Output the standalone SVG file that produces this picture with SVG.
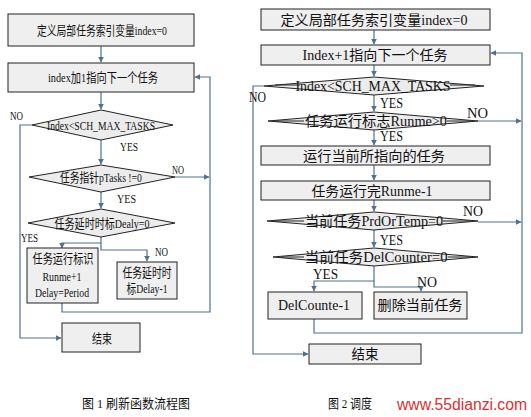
<svg xmlns="http://www.w3.org/2000/svg" width="531" height="417" viewBox="0 0 531 417">
<style>
.box{fill:#efefef;stroke:#222;stroke-width:1}
.dia{fill:#ececec;stroke:#222;stroke-width:1}
.con{fill:none;stroke:#52708f;stroke-width:1.2}
.t1{font-family:"Liberation Serif","Noto Sans CJK SC",serif;font-size:13px;fill:#111;text-anchor:middle}
.t2{font-family:"Liberation Serif","Noto Sans CJK SC",serif;font-size:14px;fill:#111;text-anchor:middle}
.lb1{font-family:"Liberation Serif",serif;font-size:13px;fill:#111}
.lb2{font-family:"Liberation Serif",serif;font-size:14px;fill:#111}
.wm{font-family:"Liberation Sans",sans-serif;font-size:16px;fill:#dc2f2f}
</style>
<defs>
<marker id="ah" viewBox="0 0 10 10" refX="9" refY="5" markerWidth="5" markerHeight="5" orient="auto">
<path d="M0,0 L10,5 L0,10 z" fill="#52708f"/>
</marker>
</defs>
<rect width="531" height="417" fill="#ffffff"/>

<!-- ===== Left flowchart ===== -->
<g id="connectors-left">
<path class="con" d="M101,46 V62" marker-end="url(#ah)"/>
<path class="con" d="M101,92 V109" marker-end="url(#ah)"/>
<path class="con" d="M101,140 V164" marker-end="url(#ah)"/>
<path class="con" d="M101,192 V208" marker-end="url(#ah)"/>
<path class="con" d="M101,237 V243 H62 V248" marker-end="url(#ah)"/>
<path class="con" d="M101,243 V250 H147 V261" marker-end="url(#ah)"/>
<path class="con" d="M62,303 V312 H210 V77 H195" marker-end="url(#ah)"/>
<path class="con" d="M175,177 H209" marker-end="url(#ah)"/>
<path class="con" d="M32,125 H20 V338 H61" marker-end="url(#ah)"/>
</g>
<g id="L-start"><rect class="box" x="8" y="14" width="186" height="32"/>
<text class="t1" x="102" y="35" textLength="130" lengthAdjust="spacingAndGlyphs">定义局部任务索引变量index=0</text></g>
<g id="L-next"><rect class="box" x="8" y="63" width="186" height="29"/>
<text class="t1" x="103" y="82" textLength="110" lengthAdjust="spacingAndGlyphs">index加1指向下一个任务</text></g>
<g id="L-cond1"><polygon class="dia" points="101,110 173,125 101,140 32,125"/>
<text class="t1" x="101" y="130" textLength="108" lengthAdjust="spacingAndGlyphs">Index&lt;SCH_MAX_TASKS</text></g>
<g id="L-cond2"><polygon class="dia" points="101,165 175,177 101,192 29,177"/>
<text class="t1" x="101" y="182" textLength="82" lengthAdjust="spacingAndGlyphs">任务指针pTasks !=0</text></g>
<g id="L-cond3"><polygon class="dia" points="101,209 175,223 101,237 28,223"/>
<text class="t1" x="102" y="228" textLength="95" lengthAdjust="spacingAndGlyphs">任务延时时标Dealy=0</text></g>
<g id="L-run"><rect class="box" x="27" y="248" width="71" height="55"/>
<text class="t1" x="63" y="263" textLength="61" lengthAdjust="spacingAndGlyphs">任务运行标识</text>
<text class="t1" x="62" y="281" textLength="39" lengthAdjust="spacingAndGlyphs">Runme+1</text>
<text class="t1" x="62" y="297" textLength="54" lengthAdjust="spacingAndGlyphs">Delay=Period</text></g>
<g id="L-dec"><rect class="box" x="117" y="262" width="60" height="37"/>
<text class="t1" x="147" y="277" textLength="49" lengthAdjust="spacingAndGlyphs">任务延时时</text>
<text class="t1" x="147" y="293" textLength="41" lengthAdjust="spacingAndGlyphs">标Delay-1</text></g>
<g id="L-end"><rect class="box" x="62" y="323" width="78" height="29"/>
<text class="t1" x="102" y="343" textLength="20" lengthAdjust="spacingAndGlyphs">结束</text></g>
<g id="L-labels">
<text class="lb1" x="10" y="120" textLength="13" lengthAdjust="spacingAndGlyphs">NO</text>
<text class="lb1" x="120" y="151" textLength="18" lengthAdjust="spacingAndGlyphs">YES</text>
<text class="lb1" x="172" y="174" textLength="12" lengthAdjust="spacingAndGlyphs">NO</text>
<text class="lb1" x="117" y="203" textLength="19" lengthAdjust="spacingAndGlyphs">YES</text>
<text class="lb1" x="21" y="242" textLength="17" lengthAdjust="spacingAndGlyphs">YES</text>
<text class="lb1" x="155" y="256" textLength="13" lengthAdjust="spacingAndGlyphs">NO</text>
</g>
<text class="t1" x="136" y="408" textLength="108" lengthAdjust="spacingAndGlyphs">图 1 刷新函数流程图</text>

<!-- ===== Right flowchart ===== -->
<g id="connectors-right">
<path class="con" d="M374,30 V44" marker-end="url(#ah)"/>
<path class="con" d="M374,65 V76" marker-end="url(#ah)"/>
<path class="con" d="M374,95 V111" marker-end="url(#ah)"/>
<path class="con" d="M374,130 V145" marker-end="url(#ah)"/>
<path class="con" d="M374,165 V180" marker-end="url(#ah)"/>
<path class="con" d="M374,200 V211" marker-end="url(#ah)"/>
<path class="con" d="M374,230 V247" marker-end="url(#ah)"/>
<path class="con" d="M374,266 V281 H314 V291" marker-end="url(#ah)"/>
<path class="con" d="M374,281 V287 H421 V291" marker-end="url(#ah)"/>
<path class="con" d="M314,319 V333 H522 V53 H491" marker-end="url(#ah)"/>
<path class="con" d="M478,121 H521" marker-end="url(#ah)"/>
<path class="con" d="M478,222 H521" marker-end="url(#ah)"/>
<path class="con" d="M264,86 H253 V354 H308" marker-end="url(#ah)"/>
</g>
<g id="R-start"><rect class="box" x="261" y="9" width="229" height="21"/>
<text class="t2" x="374" y="25" textLength="187" lengthAdjust="spacingAndGlyphs">定义局部任务索引变量index=0</text></g>
<g id="R-next"><rect class="box" x="261" y="45" width="229" height="20"/>
<text class="t2" x="375" y="60" textLength="145" lengthAdjust="spacingAndGlyphs">Index+1指向下一个任务</text></g>
<g id="R-cond1"><polygon class="dia" points="374,77 484,86 374,95 264,86"/>
<path d="M275,85 H300 M450,85 H475" stroke="#222" stroke-width="1"/>
<text class="t2" x="373" y="91" textLength="155" lengthAdjust="spacingAndGlyphs">Index&lt;SCH_MAX_TASKS</text></g>
<g id="R-cond2"><polygon class="dia" points="374,112 478,121 374,130 268,121"/>
<path d="M276,121 H304 M447,121 H470" stroke="#222" stroke-width="1"/>
<text class="t2" x="376" y="126" textLength="142" lengthAdjust="spacingAndGlyphs">任务运行标志Runme&gt;0</text></g>
<g id="R-run"><rect class="box" x="261" y="146" width="229" height="19"/>
<text class="t2" x="374" y="161" textLength="142" lengthAdjust="spacingAndGlyphs">运行当前所指向的任务</text></g>
<g id="R-done"><rect class="box" x="261" y="181" width="229" height="19"/>
<text class="t2" x="372" y="196" textLength="121" lengthAdjust="spacingAndGlyphs">任务运行完Runme-1</text></g>
<g id="R-cond3"><polygon class="dia" points="374,212 478,221 374,230 267,221"/>
<path d="M275,221 H304 M443,221 H470" stroke="#222" stroke-width="1"/>
<text class="t2" x="374" y="226" textLength="138" lengthAdjust="spacingAndGlyphs">当前任务PrdOrTemp=0</text></g>
<g id="R-cond4"><polygon class="dia" points="374,248 478,257 374,266 273,257"/>
<path d="M281,257 H304 M448,257 H470" stroke="#222" stroke-width="1"/>
<text class="t2" x="376" y="262" textLength="143" lengthAdjust="spacingAndGlyphs">当前任务DelCounter=0</text></g>
<g id="R-dec"><rect class="box" x="268" y="292" width="94" height="27"/>
<text class="t2" x="314" y="310" textLength="72" lengthAdjust="spacingAndGlyphs">DelCounte-1</text></g>
<g id="R-del"><rect class="box" x="374" y="292" width="93" height="27"/>
<text class="t2" x="420" y="310" textLength="85" lengthAdjust="spacingAndGlyphs">删除当前任务</text></g>
<g id="R-end"><rect class="box" x="309" y="344" width="112" height="20"/>
<text class="t2" x="365" y="359" textLength="27" lengthAdjust="spacingAndGlyphs">结束</text></g>
<g id="R-labels">
<text class="lb2" x="249" y="102" textLength="17" lengthAdjust="spacingAndGlyphs">NO</text>
<text class="lb2" x="380" y="108" textLength="23" lengthAdjust="spacingAndGlyphs">YES</text>
<text class="lb2" x="467" y="118" textLength="21" lengthAdjust="spacingAndGlyphs">NO</text>
<text class="lb2" x="380" y="141" textLength="23" lengthAdjust="spacingAndGlyphs">YES</text>
<text class="lb2" x="463" y="216" textLength="20" lengthAdjust="spacingAndGlyphs">NO</text>
<text class="lb2" x="380" y="245" textLength="23" lengthAdjust="spacingAndGlyphs">YES</text>
<text class="lb2" x="313" y="279" textLength="25" lengthAdjust="spacingAndGlyphs">YES</text>
<text class="lb2" x="417" y="287" textLength="20" lengthAdjust="spacingAndGlyphs">NO</text>
</g>
<text class="t1" x="350" y="408" textLength="44" lengthAdjust="spacingAndGlyphs">图 2 调度</text>
<text class="wm" x="397" y="410" textLength="130" lengthAdjust="spacingAndGlyphs">www.55dianzi.com</text>
</svg>
